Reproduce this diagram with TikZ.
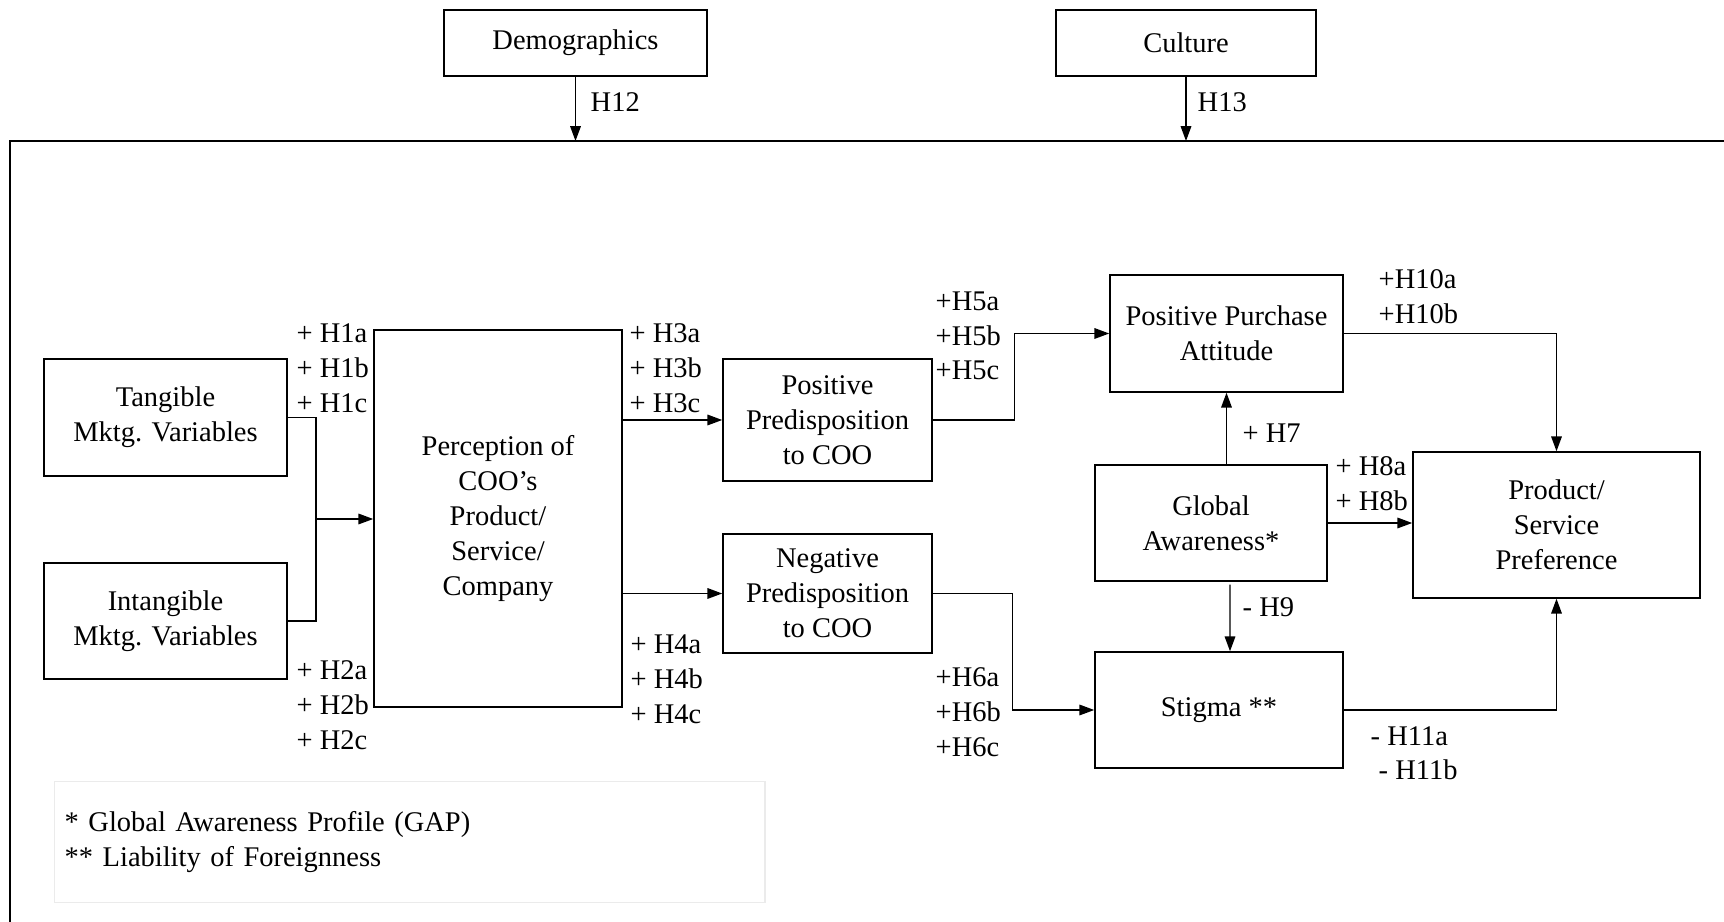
\documentclass[tikz,border=0pt]{standalone}
\usepackage{fontspec}
\setmainfont{Liberation Serif}
\usetikzlibrary{arrows.meta}
\begin{document}
\begin{tikzpicture}[x=0.01cm, y=-0.01cm,
    font=\fontsize{8.1}{9.9}\selectfont,
    box/.style={draw, align=center, inner sep=0pt},
    hyp/.style={anchor=west, align=left, inner sep=0pt},
    arr/.style={-{Triangle[length=4.2pt, width=3pt]}}]
  \useasboundingbox (0,0) rectangle (1724,922);
  \coordinate (frame) at (10,141);
  \draw (1724,141) -- (frame) -- (10,922);

  \node[box, minimum width=2.63cm, minimum height=0.66cm] (demo) at (575.5,43) {Demographics};
  \node[box, minimum width=2.6cm, minimum height=0.66cm] (cult) at (1186,43) {Culture};
  \draw[arr] (demo.south) -- (demo.south |- frame);
  \draw[arr] (cult.south) -- (cult.south |- frame);
  \node[hyp] at (590,102) {H12};
  \node[hyp] at (1197,102) {H13};

  \node[box, minimum width=2.43cm, minimum height=1.17cm] (tang) at (165.5,417.5) {Tangible\\Mktg. Variables};
  \node[box, minimum width=2.43cm, minimum height=1.16cm] (intang) at (165.5,621) {Intangible\\Mktg. Variables};
  \node[box, minimum width=2.48cm, minimum height=3.77cm] (perc) at (498,518.5) {Perception of\\COO’s\\Product/\\Service/\\Company};
  \node[box, minimum width=2.09cm, minimum height=1.22cm] (pospred) at (827.5,420) {Positive\\Predisposition\\to COO};
  \node[box, minimum width=2.09cm, minimum height=1.19cm] (negpred) at (827.5,593.5) {Negative\\Predisposition\\to COO};
  \node[box, minimum width=2.33cm, minimum height=1.17cm] (ppa) at (1226.5,333.5) {Positive Purchase\\Attitude};
  \node[box, minimum width=2.32cm, minimum height=1.16cm] (glob) at (1211,523) {Global\\Awareness*};
  \node[box, minimum width=2.48cm, minimum height=1.16cm] (stig) at (1219,710) {Stigma **};
  \node[box, minimum width=2.87cm, minimum height=1.46cm] (pref) at (1556.5,525) {Product/\\Service\\Preference};

  \coordinate (join) at (316,519);
  \draw (tang.east) -| (join) |- (intang.east);
  \draw[arr] (join) -- (join -| perc.west);
  \draw[arr] (perc.east |- pospred.west) -- (pospred.west);
  \draw[arr] (perc.east |- negpred.west) -- (negpred.west);
  \draw[arr] (pospred.east) -- ++(82,0) |- (ppa.west);
  \draw[arr] (negpred.east) -- ++(80,0) |- (stig.west);
  \draw[arr] (glob.north -| ppa.south) -- (ppa.south);
  \draw[arr] ([xshift=0.19cm, yshift=-0.03cm]glob.south) -- ([xshift=0.11cm]stig.north);
  \draw[arr] (glob.east) -- (glob.east -| pref.west);
  \draw[arr] (ppa.east) -| (pref.north);
  \draw[arr] (stig.east) -| (pref.south);

  \node[hyp] at (296,368) {+ H1a\\+ H1b\\+ H1c};
  \node[hyp] at (296,705) {+ H2a\\+ H2b\\+ H2c};
  \node[hyp] at (629,368) {+ H3a\\+ H3b\\+ H3c};
  \node[hyp] at (630,679) {+ H4a\\+ H4b\\+ H4c};
  \node[hyp] at (935,336) {+H5a\\+H5b\\+H5c};
  \node[hyp] at (935,712) {+H6a\\+H6b\\+H6c};
  \node[hyp] at (1242,433) {+ H7};
  \node[hyp] at (1335,484) {+ H8a\\+ H8b};
  \node[hyp] at (1242,607) {- H9};
  \node[hyp] at (1378,297) {+H10a\\+H10b};
  \node[hyp] at (1370,736) {- H11a};
  \node[hyp] at (1378,770) {- H11b};

  \node[draw=black!8, anchor=north west, minimum width=7.1cm, minimum height=1.21cm,
        text width=6.9cm, align=left, inner xsep=0.1cm] (legend) at (54,781)
        {* Global Awareness Profile (GAP)\\{**} Liability of Foreignness};
\end{tikzpicture}
\end{document}
